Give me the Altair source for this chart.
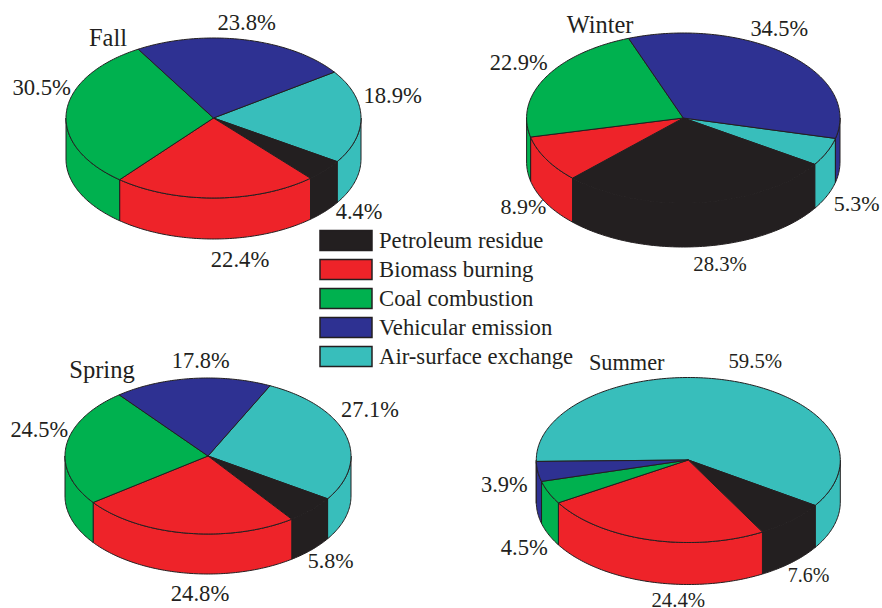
import math
import altair as alt

# Source apportionment shares (percent) per season
SOURCES = ["Petroleum residue", "Biomass burning", "Coal combustion",
           "Vehicular emission", "Air-surface exchange"]
COLORS = ["#231F20", "#EE2329", "#00B14F", "#2E3192", "#38BEBB"]

petroleum = {"Fall": 4.4, "Winter": 28.3, "Spring": 5.8, "Summer": 7.6}
biomass = {"Fall": 22.4, "Winter": 8.9, "Spring": 24.8, "Summer": 24.4}
coal = {"Fall": 30.5, "Winter": 22.9, "Spring": 24.5, "Summer": 4.5}
vehicular = {"Fall": 23.8, "Winter": 34.5, "Spring": 17.8, "Summer": 3.9}
air_surface = {"Fall": 18.9, "Winter": 5.3, "Spring": 27.1, "Summer": 59.5}

SERIES = dict(zip(SOURCES, [petroleum, biomass, coal, vehicular, air_surface]))

# Clockwise slice order, beginning with the air-surface wedge
RING = ["Air-surface exchange", "Petroleum residue", "Biomass burning",
        "Coal combustion", "Vehicular emission"]

# Disc geometry: centre, radii, wall depth and the angle where the ring starts
DISCS = {
    "Fall": dict(cx=213.5, cy=118, rx=147.5, ry=80, depth=41, start=35.0),
    "Winter": dict(cx=683.3, cy=118, rx=156.7, ry=85, depth=44, start=-13.9),
    "Spring": dict(cx=208, cy=456, rx=143, ry=78, depth=40, start=64.3),
    "Summer": dict(cx=688.3, cy=460, rx=152, ry=82.5, depth=42, start=181.0),
}

# Annotation anchors: season, source (None for the season name), x, baseline, font size
ANNOTATIONS = [
    ("Fall", None, 108, 46, 24.5),
    ("Fall", "Vehicular emission", 246.7, 30, 22.7),
    ("Fall", "Air-surface exchange", 392.7, 103, 22.7),
    ("Fall", "Coal combustion", 41.7, 95, 22.7),
    ("Fall", "Petroleum residue", 359, 219, 22.4),
    ("Fall", "Biomass burning", 240, 266.7, 22.7),
    ("Winter", None, 600, 33, 24.4),
    ("Winter", "Vehicular emission", 779.3, 36, 22.4),
    ("Winter", "Coal combustion", 518.7, 70, 22.4),
    ("Winter", "Biomass burning", 523.3, 214, 22),
    ("Winter", "Air-surface exchange", 856.7, 210.7, 22),
    ("Winter", "Petroleum residue", 720, 270.7, 20.7),
    ("Spring", None, 102, 377.7, 24.6),
    ("Spring", "Vehicular emission", 200.7, 368, 22.4),
    ("Spring", "Air-surface exchange", 370, 416.7, 22.4),
    ("Spring", "Coal combustion", 39.3, 436.7, 22.4),
    ("Spring", "Petroleum residue", 330.7, 568, 22),
    ("Spring", "Biomass burning", 200, 600.7, 22.7),
    ("Summer", None, 626.7, 370, 22.3),
    ("Summer", "Air-surface exchange", 755.3, 367.7, 20.8),
    ("Summer", "Vehicular emission", 504.3, 491.7, 22.4),
    ("Summer", "Coal combustion", 524.3, 555, 22.6),
    ("Summer", "Petroleum residue", 808.7, 582.3, 20),
    ("Summer", "Biomass burning", 678.3, 607.3, 20.8),
]


def rim(disc, a_from, a_to, drop=0.0):
    """Points along the disc edge between two angles in degrees, optionally lowered."""
    steps = max(2, int(abs(a_from - a_to)) + 1)
    points = []
    for i in range(steps + 1):
        a = math.radians(a_from + (a_to - a_from) * i / steps)
        points.append([disc["cx"] + disc["rx"] * math.cos(a),
                       disc["cy"] - disc["ry"] * math.sin(a) + drop])
    return points


def feature(ring, source):
    ring = ring + [ring[0]]
    return {"type": "Feature",
            "properties": {"source": source},
            "geometry": {"type": "Polygon", "coordinates": [ring]}}


walls, tops = [], []
for season, disc in DISCS.items():
    angle = disc["start"]
    total = sum(SERIES[source][season] for source in RING)
    for source in RING:
        sweep = SERIES[source][season] / total * 360
        end = angle - sweep
        tops.append(feature([[disc["cx"], disc["cy"]]] + rim(disc, angle, end), source))
        # Only the front half of the disc (angles -180..0, modulo 360) shows a wall
        for k in (-1, 0, 1):
            lo = max(end, -180 + 360 * k)
            hi = min(angle, 360 * k)
            if hi > lo:
                upper = rim(disc, hi, lo)
                lower = rim(disc, lo, hi, disc["depth"])
                walls.append(feature(upper + lower, source))
        angle = end

shapes = alt.InlineData(
    values={"type": "FeatureCollection", "features": walls + tops},
    format=alt.DataFormat(type="json", property="features"),
)

labels = [
    {"x": x, "y": y, "size": size,
     "text": season if source is None else f"{SERIES[source][season]:.1f}%"}
    for season, source, x, y, size in ANNOTATIONS
]

# Planar projection: coordinates are already in plot pixels
PIXEL_PLANE = dict(type="identity", scale=1, translate=[0, 0])

discs = (
    alt.Chart(shapes)
    .mark_geoshape(stroke="#231F20", strokeWidth=1, strokeJoin="round")
    .encode(
        color=alt.Color(
            "properties.source:N",
            scale=alt.Scale(domain=SOURCES, range=COLORS),
            legend=alt.Legend(
                title=None,
                orient="none",
                legendX=319,
                legendY=226,
                symbolType="M-1,-0.385H1V0.385H-1Z",
                symbolSize=2704,
                symbolStrokeColor="#231F20",
                symbolStrokeWidth=1.5,
                symbolOpacity=1,
                clipHeight=29,
                labelFont="Liberation Serif",
                labelFontSize=22.7,
                labelColor="#231F20",
                labelOffset=6,
                labelLimit=300,
                rowPadding=0,
            ),
        )
    )
    .project(**PIXEL_PLANE)
)

annotations = (
    alt.Chart(alt.Data(values=labels))
    .mark_text(font="Liberation Serif", align="center", baseline="alphabetic", color="#231F20")
    .encode(
        longitude="x:Q",
        latitude="y:Q",
        text="text:N",
        size=alt.Size("size:Q", scale=None),
    )
    .project(**PIXEL_PLANE)
)

chart = (
    alt.layer(discs, annotations)
    .properties(width=882, height=608, padding=0, autosize=alt.AutoSizeParams(type="none"),
                background="white")
    .configure_view(stroke=None)
)

chart.save("out.html", embed_options={"renderer": "svg", "actions": False})
